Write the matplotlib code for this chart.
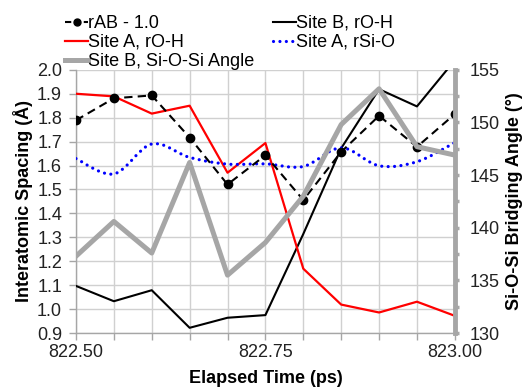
import numpy as np
import matplotlib
matplotlib.use("Agg")
import matplotlib.pyplot as plt
from matplotlib.path import Path
from matplotlib.patches import PathPatch
from matplotlib.lines import Line2D
from matplotlib.ticker import MultipleLocator, FormatStrFormatter

plt.rcParams['font.family'] = ['Liberation Sans', 'DejaVu Sans']

# elapsed time (ps)
t = [822.50, 822.55, 822.60, 822.65, 822.70, 822.75, 822.80, 822.85, 822.90, 822.95, 823.00]

# distances (A)
rab_minus1 = [1.789, 1.881, 1.893, 1.717, 1.521, 1.643, 1.456, 1.657, 1.808, 1.678, 1.815]
siteB_roh = [1.097, 1.033, 1.079, 0.922, 0.964, 0.975, 1.314, 1.672, 1.919, 1.847, 2.04]
siteA_roh = [1.900, 1.889, 1.817, 1.850, 1.570, 1.694, 1.169, 1.019, 0.986, 1.031, 0.972]
siteA_rsio = [1.629, 1.565, 1.690, 1.634, 1.606, 1.607, 1.596, 1.674, 1.599, 1.616, 1.696]

# bridging angle (deg)
siteB_angle = [137.3, 140.6, 137.6, 146.2, 135.5, 138.6, 143.0, 149.8, 153.2, 147.7, 146.9]

GRID = '#d0d0d0'
AXGRAY = '#a6a6a6'
TXT = '#222222'
FS = 13


def smooth_path(x, y):
    # Catmull-Rom style cubic bezier through the points
    x = np.asarray(x, float)
    y = np.asarray(y, float)
    n = len(x)
    verts = [(x[0], y[0])]
    codes = [Path.MOVETO]
    for i in range(n - 1):
        i0 = max(i - 1, 0)
        i3 = min(i + 2, n - 1)
        c1 = (x[i] + (x[i + 1] - x[i0]) / 6, y[i] + (y[i + 1] - y[i0]) / 6)
        c2 = (x[i + 1] - (x[i3] - x[i]) / 6, y[i + 1] - (y[i3] - y[i]) / 6)
        verts += [c1, c2, (x[i + 1], y[i + 1])]
        codes += [Path.CURVE4] * 3
    return Path(verts, codes)


fig = plt.figure(figsize=(5.24, 3.9), dpi=100)
ax = fig.add_axes([0.145, 0.146, 0.723, 0.675])
ax2 = ax.twinx()

ax.plot(t, siteB_roh, color='black', lw=1.5, zorder=3)
ax.plot(t, siteA_roh, color='red', lw=1.6, zorder=3)
blue_style = dict(color='blue', lw=2.3, ls=(0, (0.01, 2.0)))
ax.add_patch(PathPatch(smooth_path(t, siteA_rsio), fill=False, capstyle='round',
                       zorder=3, **blue_style))
ax.plot(t, rab_minus1, color='black', lw=1.5, ls=(0, (4, 2.5)), marker='o',
        markersize=6, zorder=4)
ax2.plot(t, siteB_angle, color=AXGRAY, lw=3.6, zorder=3)

ax.set_xlim(822.5, 823.0)
ax.set_ylim(0.9, 2.0)
ax2.set_ylim(130, 155)

ax.xaxis.set_major_locator(MultipleLocator(0.25))
ax.xaxis.set_minor_locator(MultipleLocator(0.05))
ax.xaxis.set_major_formatter(FormatStrFormatter('%.2f'))
ax.yaxis.set_major_locator(MultipleLocator(0.1))
ax.yaxis.set_major_formatter(FormatStrFormatter('%.1f'))
ax2.yaxis.set_major_locator(MultipleLocator(5))
ax2.yaxis.set_minor_locator(MultipleLocator(2.5))

ax.grid(True, which='both', color=GRID, lw=1.0)
ax.set_axisbelow(True)

for s in ['top', 'right']:
    ax.spines[s].set_visible(False)
for s in ['left', 'bottom']:
    ax.spines[s].set_color(AXGRAY)
    ax.spines[s].set_linewidth(1.0)
for s in ['top', 'left', 'bottom']:
    ax2.spines[s].set_visible(False)
ax2.spines['right'].set_color(AXGRAY)
ax2.spines['right'].set_linewidth(3.5)

ax.tick_params(axis='both', which='both', colors=AXGRAY, labelcolor=TXT,
               labelsize=FS, length=5, width=1)
ax.tick_params(axis='x', pad=3)
ax.tick_params(axis='y', pad=5)
ax2.tick_params(axis='y', which='both', colors=AXGRAY, labelcolor=TXT,
                labelsize=FS, length=3, width=2.5, pad=8)

ax.set_xlabel('Elapsed Time (ps)', fontsize=FS, fontweight='bold', labelpad=6)
ax.set_ylabel('Interatomic Spacing (Å)', fontsize=FS, fontweight='bold', labelpad=3)
ax2.set_ylabel('Si-O-Si Bridging Angle (°)', fontsize=FS, fontweight='bold', labelpad=4)

handles = [
    Line2D([], [], color='black', lw=1.5, ls=(0, (3, 1.5)), marker='o', markersize=5),
    Line2D([], [], color='red', lw=1.6),
    Line2D([], [], color=AXGRAY, lw=3.6),
    Line2D([], [], color='black', lw=1.5),
    Line2D([], [], solid_capstyle='round', dash_capstyle='round', **blue_style),
]
labels = ['rAB - 1.0', 'Site A, rO-H', 'Site B, Si-O-Si Angle',
          'Site B, rO-H', 'Site A, rSi-O']
fig.legend(handles, labels, ncol=2, loc='upper left', bbox_to_anchor=(0.124, 0.962),
           frameon=False, fontsize=FS, handlelength=1.3, handletextpad=0.0,
           columnspacing=1.0, labelspacing=0.12, borderpad=0, borderaxespad=0)

fig.savefig('out.png', dpi=100)
